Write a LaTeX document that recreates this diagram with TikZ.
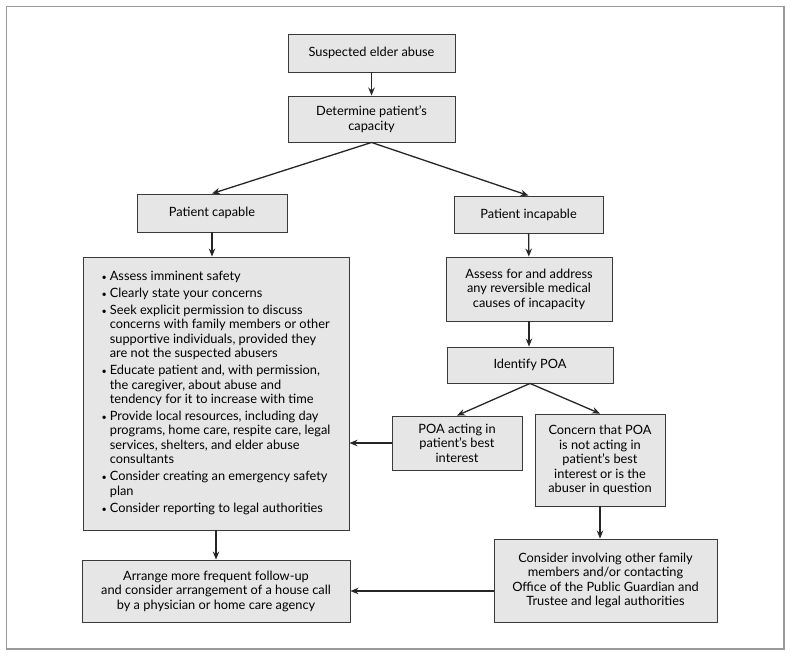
\documentclass[tikz,border=0pt]{standalone}
\usepackage{fontspec}
\setmainfont{Lato}
\usepackage{xcolor}
\usepackage{tikz}
\usetikzlibrary{arrows.meta}

\definecolor{boxfill}{HTML}{E6E6E6}
\definecolor{boxline}{HTML}{3A3A3A}
\definecolor{framegray}{HTML}{9A9A9A}

\begin{document}
\begin{tikzpicture}[x=1pt, y=-1pt,
    every node/.style={font=\fontsize{12.8}{14.5}\selectfont},
    box/.style={draw=boxline, fill=boxfill, line width=0.9pt, rectangle, align=center, inner sep=3pt},
    arr/.style={-{Stealth[length=8pt, width=6.5pt]}, line width=1.3pt, draw=black!85}]
    \useasboundingbox (0,0) rectangle (791,657);
    % Outer frame
    \draw[framegray, line width=1.3pt] (6.5,6.5) rectangle (784,649);

    % Top of the chart
    \node[box, minimum width=167pt, minimum height=38pt] (abuse) at (371.5,53) {Suspected elder abuse};
    \node[box, minimum width=167pt, minimum height=46pt] (capacity) at (371.5,119) {Determine patient’s\\capacity};

    % Two branches
    \node[box, minimum width=150pt, minimum height=38pt] (capable) at (212,213) {Patient capable};
    \node[box, minimum width=149pt, minimum height=37pt] (incapable) at (528.5,214.5) {Patient incapable};

    % Capable patient: list of actions
    \node[box, minimum width=266pt, minimum height=273pt] (actions) at (216,393.5) {%
        \begin{tabular}{@{}l@{\hspace{3pt}}l@{}}
        {\small\textbullet} & Assess imminent safety\\[2.3pt]
        {\small\textbullet} & Clearly state your concerns\\[2.3pt]
        {\small\textbullet} & Seek explicit permission to discuss\\
                    & concerns with family members or other\\
                    & supportive individuals, provided they\\
                    & are not the suspected abusers\\[2.3pt]
        {\small\textbullet} & Educate patient and, with permission,\\
                    & the caregiver, about abuse and\\
                    & tendency for it to increase with time\\[2.3pt]
        {\small\textbullet} & Provide local resources, including day\\
                    & programs, home care, respite care, legal\\
                    & services, shelters, and elder abuse\\
                    & consultants\\[2.3pt]
        {\small\textbullet} & Consider creating an emergency safety\\
                    & plan\\[2.3pt]
        {\small\textbullet} & Consider reporting to legal authorities
        \end{tabular}};

    % Incapable patient
    \node[box, minimum width=166pt, minimum height=64pt] (medical) at (529,289) {Assess for and address\\any reversible medical\\causes of incapacity};
    \node[box, minimum width=166pt, minimum height=36pt] (poa) at (530,365) {Identify POA};
    \node[box, minimum width=130pt, minimum height=54pt] (acting) at (457,443) {POA acting in\\patient’s best\\interest};
    \node[box, minimum width=130pt, minimum height=92pt] (concern) at (600,460) {Concern that POA\\is not acting in\\patient’s best\\interest or is the\\abuser in question};

    % Bottom row
    \node[box, minimum width=268pt, minimum height=62pt] (followup) at (216,591) {Arrange more frequent follow-up\\and consider arrangement of a house call\\by a physician or home care agency};
    \node[box, minimum width=223pt, minimum height=83pt] (involve) at (605.5,580.5) {Consider involving other family\\members and/or contacting\\Office of the Public Guardian and\\Trustee and legal authorities};

    % Edges
    \draw[arr] (abuse) -- (capacity);
    \draw[arr] (capacity.south) -- (capable.north);
    \draw[arr] (capacity.south) -- (incapable.north);
    \draw[arr] (capable) -- (capable |- actions.north);
    \draw[arr] (actions) -- (followup);
    \draw[arr] (incapable) -- (medical);
    \draw[arr] (medical) -- (medical |- poa.north);
    \draw[arr] (poa.south) -- (acting.north);
    \draw[arr] (poa.south) -- (concern.north);
    \draw[arr] (acting) -- (acting -| actions.east);
    \draw[arr] (concern) -- (concern |- involve.north);
    \draw[arr] (involve.west |- followup) -- (followup);
\end{tikzpicture}
\end{document}
